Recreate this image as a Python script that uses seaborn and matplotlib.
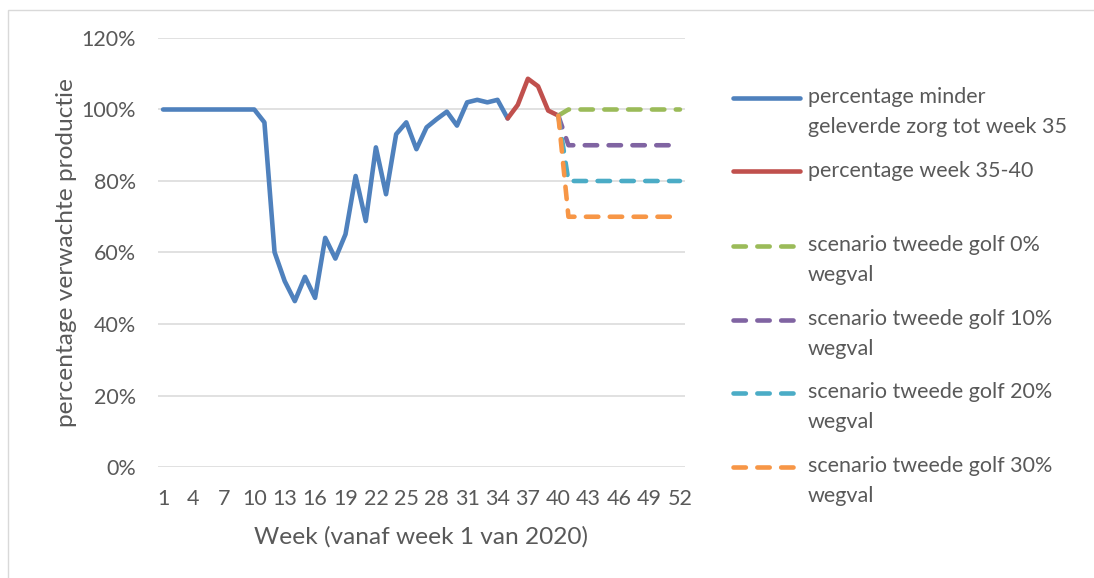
import matplotlib
matplotlib.use("Agg")
import matplotlib.pyplot as plt
from matplotlib.lines import Line2D
from matplotlib.patches import Rectangle
from matplotlib.ticker import PercentFormatter, FixedLocator
import numpy as np
import pandas as pd
import seaborn as sns

# ---- data -------------------------------------------------------------
weeks_actual = list(range(1, 36))
pct_actual = [100, 100, 100, 100, 100, 100, 100, 100, 100, 100,
              96.4, 60.1, 52.0, 46.4, 53.2, 47.3, 64.1, 58.3, 65.1, 81.4,
              68.8, 89.4, 76.3, 93.1, 96.4, 88.9, 95.0, 97.3, 99.4, 95.5,
              102.0, 102.7, 102.0, 102.7, 97.5]

weeks_recent = [35, 36, 37, 38, 39, 40]
pct_recent = [97.5, 101.3, 108.6, 106.5, 99.7, 98.3]

weeks_scenario = list(range(40, 53))
scenario_start = 98.3
scenario_levels = [100, 90, 80, 70]

labels = [
    "percentage minder\ngeleverde zorg tot week 35",
    "percentage week 35-40",
    "scenario tweede golf 0%\nwegval",
    "scenario tweede golf 10%\nwegval",
    "scenario tweede golf 20%\nwegval",
    "scenario tweede golf 30%\nwegval",
]
colors = ["#4F81BD", "#C0504D", "#9BBB59", "#8064A2", "#4BACC6", "#F79646"]
x_ticks = list(range(1, 53, 3))
y_ticks = [0, 20, 40, 60, 80, 100, 120]

# ---- style ------------------------------------------------------------
sns.set_style("white")
plt.rcParams["font.family"] = ["Lato", "DejaVu Sans"]
TXT = "#595959"

W, H = 1094, 578
fig = plt.figure(figsize=(W / 100, H / 100), dpi=100)
ax = fig.add_axes([158 / W, (H - 467) / H, (685 - 158) / W, (467 - 38) / H])

LW = 3.3
DASH = (0, (2.7, 2.5))

frames = [pd.DataFrame({"week": weeks_actual, "pct": pct_actual}),
          pd.DataFrame({"week": weeks_recent, "pct": pct_recent})]
for lvl in scenario_levels:
    vals = [scenario_start] + [lvl] * (len(weeks_scenario) - 1)
    frames.append(pd.DataFrame({"week": weeks_scenario, "pct": vals}))

for i, df in enumerate(frames):
    sns.lineplot(data=df, x="week", y="pct", ax=ax, color=colors[i],
                 linewidth=LW, linestyle="-" if i < 2 else DASH,
                 solid_capstyle="round", dash_capstyle="round",
                 solid_joinstyle="round", zorder=3 + i)

ax.set_xlim(0.5, 52.5)
ax.set_ylim(0, 120)
ax.xaxis.set_major_locator(FixedLocator(x_ticks))
ax.yaxis.set_major_locator(FixedLocator(y_ticks))
ax.yaxis.set_major_formatter(PercentFormatter(100, decimals=0))
ax.grid(axis="y", color="#D9D9D9", linewidth=1.1)
ax.grid(axis="x", visible=False)
for s in ax.spines.values():
    s.set_visible(False)
ax.tick_params(axis="both", length=0, labelsize=15.5, labelcolor=TXT)
ax.tick_params(axis="y", pad=16)
ax.tick_params(axis="x", pad=16)
ax.set_xlabel("Week (vanaf week 1 van 2020)", fontsize=17.6, color=TXT, labelpad=12)
ax.set_ylabel("percentage verwachte productie", fontsize=17.6, color=TXT, labelpad=3)

# ---- legend on the right ---------------------------------------------
LEG_FS = 15.5
LINE_STEP = 29  # px between wrapped lines
leg_rows = [98, 171, 246, 320, 393, 467]
for i, yrow in enumerate(leg_rows):
    yf = (H - yrow) / H
    fig.add_artist(Line2D([733 / W, 800 / W], [yf, yf], color=colors[i],
                          linewidth=LW, linestyle="-" if i < 2 else DASH,
                          solid_capstyle="round", dash_capstyle="round",
                          transform=fig.transFigure))
    n_lines = labels[i].count("\n") + 1
    base = yrow + 6 + (n_lines - 1) * LINE_STEP
    fig.text(808 / W, (H - base) / H, labels[i], fontsize=LEG_FS, color=TXT,
             va="baseline", ha="left", linespacing=1.62,
             transform=fig.transFigure)

# chart area outline
fig.add_artist(Rectangle((8 / W, -0.1), 1.2, (H - 10) / H + 0.1,
                         transform=fig.transFigure, fill=False,
                         edgecolor="#D9D9D9", linewidth=1.0))

fig.savefig("out.png", dpi=100)
